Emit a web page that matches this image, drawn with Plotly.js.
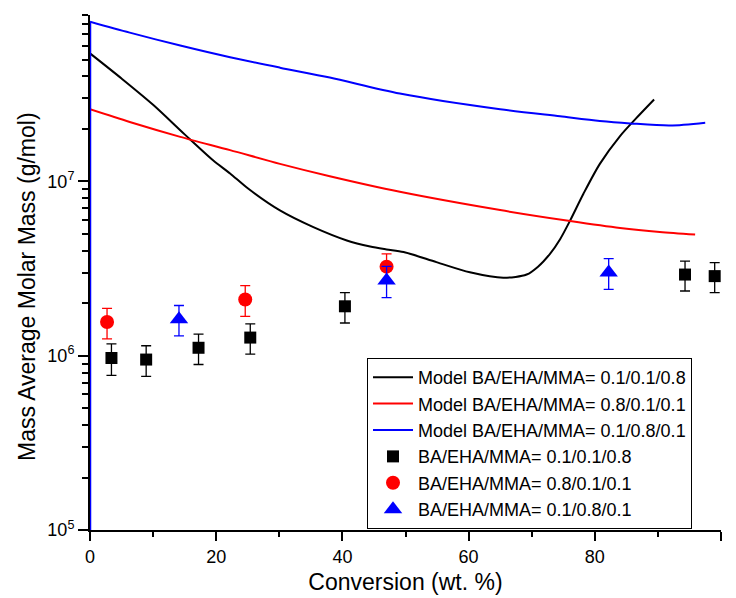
<!DOCTYPE html>
<html>
<head>
<meta charset="utf-8">
<script src="https://cdn.plot.ly/plotly-3.0.1.min.js"></script>
<style>
html,body{margin:0;padding:0;background:#fff;}
#chart{width:736px;height:598px;}
</style>
</head>
<body>
<div id="chart"></div>
<script>
// ---- Model curves ----
const modelBlackX = [0, 5, 10, 15, 19.5, 22.2, 25, 30.1, 35.4, 40.7, 44.4, 47, 49.7, 54.9, 60.2, 65.5, 69.2, 71, 72.9, 74.5, 76.1, 78.2, 80.8, 84, 86.5, 89.4];
const modelBlackY = [5.42e7, 3.89e7, 2.75e7, 1.86e7, 1.32e7, 1.11e7, 9.12e6, 6.81e6, 5.46e6, 4.58e6, 4.23e6, 4.07e6, 3.93e6, 3.44e6, 3.01e6, 2.80e6, 2.92e6, 3.24e6, 3.84e6, 4.66e6, 5.97e6, 8.49e6, 1.26e7, 1.82e7, 2.29e7, 2.95e7];

const modelRedX = [0, 6.3, 14.3, 22.2, 30.1, 38, 49.1, 65, 76.1, 84, 90.3, 95.9];
const modelRedY = [2.59e7, 2.19e7, 1.80e7, 1.51e7, 1.26e7, 1.07e7, 8.71e6, 6.84e6, 5.92e6, 5.40e6, 5.12e6, 4.95e6];

// first point: initial value at zero conversion (drawn as the vertical rise at x = 0)
const modelBlueX = [0, 0, 6.3, 14.3, 22.2, 30.1, 38, 49.1, 65, 74.5, 80.8, 85.6, 91.9, 97.5];
const modelBlueY = [1, 8.24e7, 7.13e7, 6.01e7, 5.15e7, 4.49e7, 3.94e7, 3.19e7, 2.59e7, 2.36e7, 2.22e7, 2.15e7, 2.09e7, 2.17e7];

// ---- Experimental data ----
const expBlackX = [3.4, 8.9, 17.2, 25.4, 40.4, 94.3, 99.0];
const expBlackY = [0.97e6, 0.95e6, 1.11e6, 1.27e6, 1.92e6, 2.92e6, 2.86e6];
const expBlackErr = [0.2e6, 0.19e6, 0.22e6, 0.25e6, 0.38e6, 0.57e6, 0.56e6];

const expRedX = [2.7, 24.6, 47.0];
const expRedY = [1.56e6, 2.10e6, 3.24e6];
const expRedErr = [0.31e6, 0.42e6, 0.6e6];

const expBlueX = [14.1, 47.0, 82.2];
const expBlueY = [1.62e6, 2.7e6, 3.0e6];
const expBlueErr = [0.32e6, 0.55e6, 0.6e6];

// ---- Names & ticks ----
const seriesNames = [
  'Model BA/EHA/MMA= 0.1/0.1/0.8',
  'Model BA/EHA/MMA= 0.8/0.1/0.1',
  'Model BA/EHA/MMA= 0.1/0.8/0.1',
  'BA/EHA/MMA= 0.1/0.1/0.8',
  'BA/EHA/MMA= 0.8/0.1/0.1',
  'BA/EHA/MMA= 0.1/0.8/0.1'
];
const xTickVals = [0, 20, 40, 60, 80, 100];
const xTickText = ['0', '20', '40', '60', '80', '100'];
const yTickVals = [1e5, 1e6, 1e7];
const yTickText = ['10<sup>5</sup>', '10<sup>6</sup>', '10<sup>7</sup>'];
const yMinorVals = [2e5,3e5,4e5,5e5,6e5,7e5,8e5,9e5,2e6,3e6,4e6,5e6,6e6,7e6,8e6,9e6,2e7,3e7,4e7,5e7,6e7,7e7,8e7,9e7];
const xTitle = 'Conversion (wt. %)';
const yTitle = 'Mass Average Molar Mass (g/mol)';

const FONT = '"Liberation Sans", Arial, sans-serif';

function errBar(arr, color) {
  return {type: 'data', array: arr, visible: true, color: color, thickness: 1.3, width: 5};
}

const traces = [
  {x: modelBlackX, y: modelBlackY, name: seriesNames[0], mode: 'lines', line: {color: '#000000', width: 2, shape: 'spline', smoothing: 0.8}},
  {x: modelRedX, y: modelRedY, name: seriesNames[1], mode: 'lines', line: {color: '#ff0000', width: 2, shape: 'spline', smoothing: 0.8}},
  {x: modelBlueX.slice(1), y: modelBlueY.slice(1), name: seriesNames[2], mode: 'lines', line: {color: '#0000ff', width: 2, shape: 'spline', smoothing: 0.8}},
  {x: modelBlueX.slice(0, 2), y: modelBlueY.slice(0, 2), name: seriesNames[2], showlegend: false, mode: 'lines', line: {color: '#0000ff', width: 2.5}},
  {x: expBlackX, y: expBlackY, name: seriesNames[3], mode: 'markers', marker: {symbol: 'square', size: 12, color: '#000000'}, error_y: errBar(expBlackErr, '#000000')},
  {x: expRedX, y: expRedY, name: seriesNames[4], mode: 'markers', marker: {symbol: 'circle', size: 14, color: '#ff0000'}, error_y: errBar(expRedErr, '#ff0000')},
  {x: expBlueX, y: expBlueY, name: seriesNames[5], mode: 'markers', marker: {symbol: 'triangle-up', size: 16, color: '#0000ff'}, error_y: errBar(expBlueErr, '#0000ff')}
];

const layout = {
  width: 736, height: 598,
  margin: {l: 90, r: 15, t: 15, b: 68},
  paper_bgcolor: '#ffffff', plot_bgcolor: '#ffffff',
  font: {family: FONT, size: 18, color: '#000000'},
  showlegend: true,
  legend: {
    x: 0.439, y: 0.334, xanchor: 'left', yanchor: 'top',
    bgcolor: '#ffffff', bordercolor: '#000000', borderwidth: 1,
    font: {family: FONT, size: 18, color: '#000000'},
    itemwidth: 40,
    tracegroupgap: 0
  },
  xaxis: {
    range: [0, 100], showgrid: false, zeroline: false,
    showline: true, linecolor: '#000000', linewidth: 2,
    ticks: 'outside', ticklen: 9, tickwidth: 2, tickcolor: '#000000',
    tickmode: 'array', tickvals: xTickVals, ticktext: xTickText,
    tickfont: {family: FONT, size: 18},
    minor: {ticks: 'outside', ticklen: 5, tickwidth: 2, tickcolor: '#000000', dtick: 10, tick0: 0},
    title: {text: xTitle, font: {family: FONT, size: 23}, standoff: 8}
  },
  yaxis: {
    type: 'log', range: [5, Math.log10(9e7)], showgrid: false, zeroline: false,
    showline: true, linecolor: '#000000', linewidth: 2,
    ticks: 'outside', ticklen: 10, tickwidth: 2, tickcolor: '#000000',
    tickmode: 'array', tickvals: yTickVals, ticktext: yTickText,
    tickfont: {family: FONT, size: 18},
    minor: {ticks: 'outside', ticklen: 6, tickwidth: 2, tickcolor: '#000000', tickmode: 'array', tickvals: yMinorVals}
  },
  annotations: [{
    text: yTitle, textangle: -90, xref: 'paper', yref: 'paper',
    x: -0.0998, y: 0.472, xanchor: 'center', yanchor: 'middle', showarrow: false,
    font: {family: FONT, size: 23, color: '#000000'}
  }]
};

Plotly.newPlot('chart', traces, layout, {displayModeBar: false, staticPlot: true});
</script>
</body>
</html>
